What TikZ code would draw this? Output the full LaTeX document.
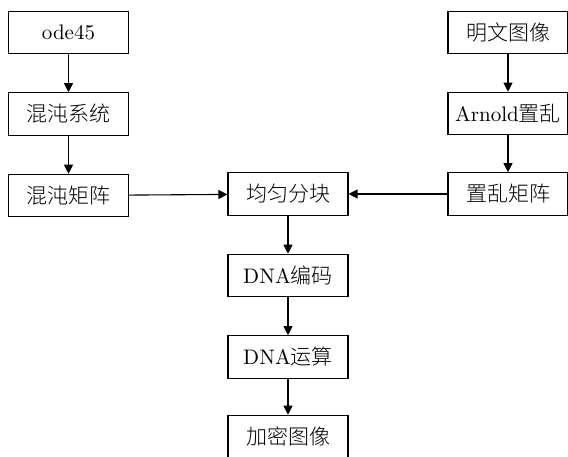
\documentclass[tikz,border=0pt]{standalone}
\usepackage{fontspec}
\newfontfamily\cjk{Noto Sans CJK SC}[UprightFont=* Light]
\usetikzlibrary{arrows.meta}
\newcommand{\bigtxt}[1]{\scalebox{2}{\fontsize{10.5}{12}\selectfont #1}}
\begin{document}
\begin{tikzpicture}[x=1pt,y=-1pt,
  box/.style={draw,line width=1.1pt,minimum width=120pt,minimum height=42.5pt,inner sep=0pt},
  arr/.style={line width=1.1pt,-{Triangle[length=9pt,width=9pt]}}]
\useasboundingbox (0,0) rectangle (568,457);
\begin{scope}
\clip (0,0) rectangle (568,457);
\node[box] (a1) at (68.5,32.5) {\bigtxt{ode45}};
\node[box] (a2) at (68.5,114) {\bigtxt{\cjk 混沌系统}};
\node[box] (a3) at (68.5,195.5) {\bigtxt{\cjk 混沌矩阵}};
\node[box] (b1) at (508,32.5) {\bigtxt{\cjk 明文图像}};
\node[box] (b2) at (508,113.5) {\bigtxt{Arnold{\cjk 置乱}}};
\node[box] (b3) at (508,194) {\bigtxt{\cjk 置乱矩阵}};
\node[box] (c1) at (288,194) {\bigtxt{\cjk 均匀分块}};
\node[box] (c2) at (288,275.5) {\bigtxt{DNA{\cjk 编码}}};
\node[box] (c3) at (288,357) {\bigtxt{DNA{\cjk 运算}}};
\node[box] (c4) at (288,436.5) {\bigtxt{\cjk 加密图像}};
\draw[arr] (a1) -- (a2);
\draw[arr] (a2) -- (a3);
\draw[arr] (b1) -- (b2);
\draw[arr] (b2) -- (b3);
\draw[arr] (a3) -- (c1);
\draw[arr] (b3) -- (c1);
\draw[arr] (c1) -- (c2);
\draw[arr] (c2) -- (c3);
\draw[arr] (c3) -- (c4);
\end{scope}
\end{tikzpicture}
\end{document}
